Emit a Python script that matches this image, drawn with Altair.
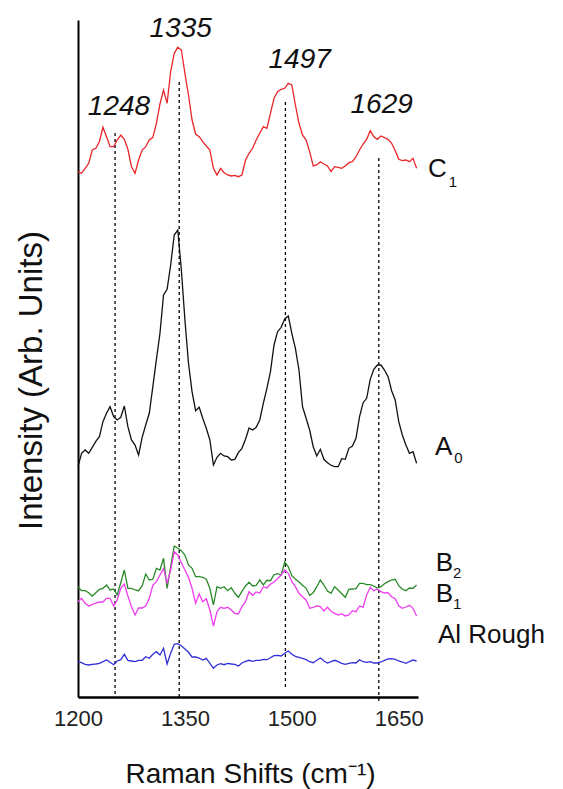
import altair as alt
import pandas as pd

# Raman shift grid (cm^-1)
wavenumber = list(range(1200, 1680, 5))

# Spectra (arbitrary intensity units, already offset as drawn)
c1 = [525.3, 523.7, 528.7, 533.7, 547, 548.7, 555.3, 569.7, 560.3, 550.3,
      550.3, 557, 562, 557.7, 547.7, 530.3, 523.7, 537, 547, 550.3,
      557, 559.7, 573.7, 593, 607, 593.7, 625.3, 643.7, 649.7, 647,
      623.7, 602, 577, 563, 560.3, 555.3, 551, 547, 528.7, 522,
      528.7, 524.3, 522, 521, 521.7, 520.3, 522, 537, 543.7, 548.7,
      557, 563.7, 570.3, 568.7, 583.7, 598.7, 605.3, 607.7, 608.7, 613.7,
      612, 592, 573.7, 562, 557, 545.3, 531, 532, 535.3, 533,
      531, 525.3, 530.3, 529.7, 528.7, 531, 534.3, 535.3, 540.3, 547,
      553, 557.7, 566.3, 560.3, 557.7, 561, 559.3, 557.7, 553.7, 546.3,
      537.7, 536.3, 537, 535.3, 538.7, 528.7]
a0 = [230.3, 243.7, 247, 243.7, 249.7, 255.7, 260.3, 275.3, 283.7, 290.3,
      280.3, 277, 279.7, 291, 270.3, 257, 252, 242, 259.7, 272,
      283.7, 310.3, 337.7, 363.7, 402, 407.7, 432, 462, 467, 427,
      377, 333.7, 305.3, 286.3, 289.7, 278.7, 268.7, 257, 232, 239.7,
      243.7, 241, 240.3, 237, 237.7, 244.3, 248.7, 257.7, 269, 267,
      269.7, 277, 293.7, 308.7, 325.3, 352, 365.3, 369.7, 378, 381,
      363.7, 348.7, 327, 290.3, 278.7, 267, 250.3, 241, 247.7, 237.7,
      234.3, 231.7, 230.3, 230.3, 238.3, 237.7, 248.7, 251, 258.7, 280.3,
      294.3, 298.7, 317.7, 327.7, 332, 332, 327, 320.3, 306.3, 297,
      275.3, 262, 252, 243.7, 245.3, 233.7]
b2 = [110.3, 106.3, 106.3, 104.3, 101, 104.3, 107.7, 108.7, 112, 107,
      108, 102, 114.3, 127, 108.7, 108.7, 107, 106.3, 111, 123,
      117, 117.7, 128.7, 127, 138.7, 108.7, 130.3, 151, 148.7, 146.3,
      142, 132, 128.7, 120.3, 120.3, 119.7, 117.7, 108.7, 92, 110.3,
      108.7, 110.3, 106.3, 109.3, 103.7, 99.7, 105.7, 111, 114.7, 111,
      111.7, 117, 112, 116.7, 116.3, 122.3, 123.3, 122, 135, 130.3,
      121.3, 118, 115, 111.7, 108.7, 101.7, 104.3, 110.3, 117, 112,
      106, 103.7, 110.3, 107, 103.3, 99.7, 107.7, 108, 108.3, 113.7,
      113.7, 112.3, 112.3, 111, 109, 110.3, 113.3, 115.3, 117, 117.7,
      111.3, 107.7, 106.3, 109, 108.7, 112]
b1 = [95.3, 98.7, 93.7, 91, 92.7, 94, 95, 95, 98.7, 98.7,
      91, 97, 108.7, 113, 101, 90.3, 82, 89, 89, 91,
      98.7, 111.7, 115.3, 122, 128.3, 113.7, 127, 145.3, 142, 134.3,
      127, 119.7, 108.7, 93.7, 103, 95.3, 98.3, 87, 71, 85.3,
      89.7, 88.7, 89.7, 87, 83.7, 83, 90.3, 95.3, 105.3, 101.7,
      105, 103.7, 110.3, 109, 112.7, 115, 118.3, 122, 127, 123.7,
      115.3, 110.3, 103.7, 100.3, 97, 88.7, 89.7, 91, 90.3, 86,
      89.7, 85.7, 83.7, 82, 83.3, 81, 82, 86.3, 85.3, 91,
      89.7, 102, 109.7, 106.3, 108, 105.3, 104, 104.3, 100.3, 98.3,
      91.3, 88.7, 90, 91.7, 88.7, 81]
al = [35.3, 34.3, 32.7, 32, 32.7, 33, 33.7, 35.3, 37, 34.7,
      32.3, 36, 37.3, 42.7, 36.7, 36, 35.3, 36.7, 36.7, 40.3,
      38.7, 42.7, 45.3, 42, 48.7, 33, 43.7, 52.7, 53.3, 51.3,
      48, 44.7, 40, 40, 39, 37, 38.7, 33.7, 28.7, 32,
      33.3, 32.3, 33.7, 33, 32.7, 31, 34, 35.7, 36.7, 35.7,
      36.7, 36.7, 37.7, 37.3, 39.3, 41.3, 41.7, 41, 43.7, 46,
      42.7, 40.7, 39.7, 38.7, 37.3, 35.3, 34.3, 36.7, 39, 36,
      34, 35.3, 36.7, 35.3, 33.7, 32.7, 33.7, 34.3, 34, 37.3,
      35.3, 34.7, 35.3, 34, 34, 35, 36.7, 38, 38.3, 37.7,
      36, 35, 33.7, 35.3, 37, 36]

series_names = ["C1", "A0", "B2", "B1", "Al Rough"]
series_colors = ["#e8262a", "#111111", "#2a8a2a", "#ee3cee", "#3030d8"]

# Peak markers
peak_pos = [1252, 1342, 1491, 1622]
peak_text = ["1248", "1335", "1497", "1629"]
peak_rule_top = [564, 615, 595, 539]
peak_rule_bottom = [0, 0, 7, -5]
peak_label_x = [1257.5, 1344, 1511, 1626]
peak_label_y = [582, 660, 629, 584]

# Series labels at right
label_main = ["C", "A", "B", "B", "Al Rough"]
label_x = [1691, 1701, 1702, 1702, 1705]
label_y = [520, 242, 126, 95, 54]
sub_text = ["1", "0", "2", "1"]
sub_x = [1720, 1728, 1726, 1726]
sub_y = [510, 234, 119, 88]

rows = []
for name, vals in zip(series_names, [c1, a0, b2, b1, al]):
    for w, v in zip(wavenumber, vals):
        rows.append({"wn": w, "val": v, "series": name})
df = pd.DataFrame(rows)

rules_df = pd.DataFrame({"pos": peak_pos, "top": peak_rule_top, "bottom": peak_rule_bottom})
peak_df = pd.DataFrame({"x": peak_label_x, "y": peak_label_y, "t": peak_text})
lab_df = pd.DataFrame({"x": label_x, "y": label_y, "t": label_main})
sub_df = pd.DataFrame({"x": sub_x, "y": sub_y, "t": sub_text})

FONT = "Liberation Sans"
xscale = alt.Scale(domain=[1200, 1677], nice=False, zero=False)
yscale = alt.Scale(domain=[0, 677], nice=False, zero=False)

xaxis = alt.Axis(values=[1200, 1350, 1500, 1650], format="d", labelFont=FONT,
                 labelFontSize=22, labelColor="#222222", labelFlush=False,
                 labelOverlap=False, ticks=False, grid=False, domainColor="black",
                 domainWidth=2.5, labelPadding=28, labelBaseline="alphabetic",
                 title="Raman Shifts (cm⁻¹)", titleFont=FONT, titleFontSize=28,
                 titleFontWeight="normal", titleColor="#111111", titleX=172, titleY=85,
                 titleAlign="center", titleBaseline="alphabetic")
yaxis = alt.Axis(labels=False, ticks=False, grid=False, domainColor="black",
                 domainWidth=2, title="Intensity (Arb. Units)", titleFont=FONT,
                 titleFontSize=33, titleFontWeight="normal", titleColor="#111111",
                 titleX=-47, titleY=360, titleAngle=270, titleAlign="center",
                 titleBaseline="middle")

lines = alt.Chart(df).mark_line(strokeWidth=1.3).encode(
    x=alt.X("wn:Q", scale=xscale, axis=xaxis),
    y=alt.Y("val:Q", scale=yscale, axis=yaxis),
    color=alt.Color("series:N", scale=alt.Scale(domain=series_names, range=series_colors), legend=None),
    detail="series:N",
)

rules = alt.Chart(rules_df).mark_rule(strokeDash=[3, 3], color="black", strokeWidth=1.3).encode(
    x=alt.X("pos:Q", scale=xscale), y=alt.Y("top:Q", scale=yscale), y2="bottom:Q"
)

peaks = alt.Chart(peak_df).mark_text(font=FONT, fontStyle="italic", fontSize=28,
                                     align="center", baseline="alphabetic", color="#111111").encode(
    x=alt.X("x:Q", scale=xscale), y=alt.Y("y:Q", scale=yscale), text="t:N"
)

labels = alt.Chart(lab_df).mark_text(font=FONT, fontSize=26, align="left",
                                     baseline="alphabetic", color="#111111").encode(
    x=alt.X("x:Q", scale=xscale), y=alt.Y("y:Q", scale=yscale), text="t:N"
)

subs = alt.Chart(sub_df).mark_text(font=FONT, fontSize=15, align="left",
                                   baseline="alphabetic", color="#111111").encode(
    x=alt.X("x:Q", scale=xscale), y=alt.Y("y:Q", scale=yscale), text="t:N"
)

chart = alt.layer(rules, lines, peaks, labels, subs).properties(
    width=340, height=677,
    autosize=alt.AutoSizeParams(type="none"),
    padding={"left": 70, "top": 12, "right": 137, "bottom": 92},
).configure_view(stroke=None)

chart.save("out.html", embed_options={"renderer": "svg", "actions": False})
